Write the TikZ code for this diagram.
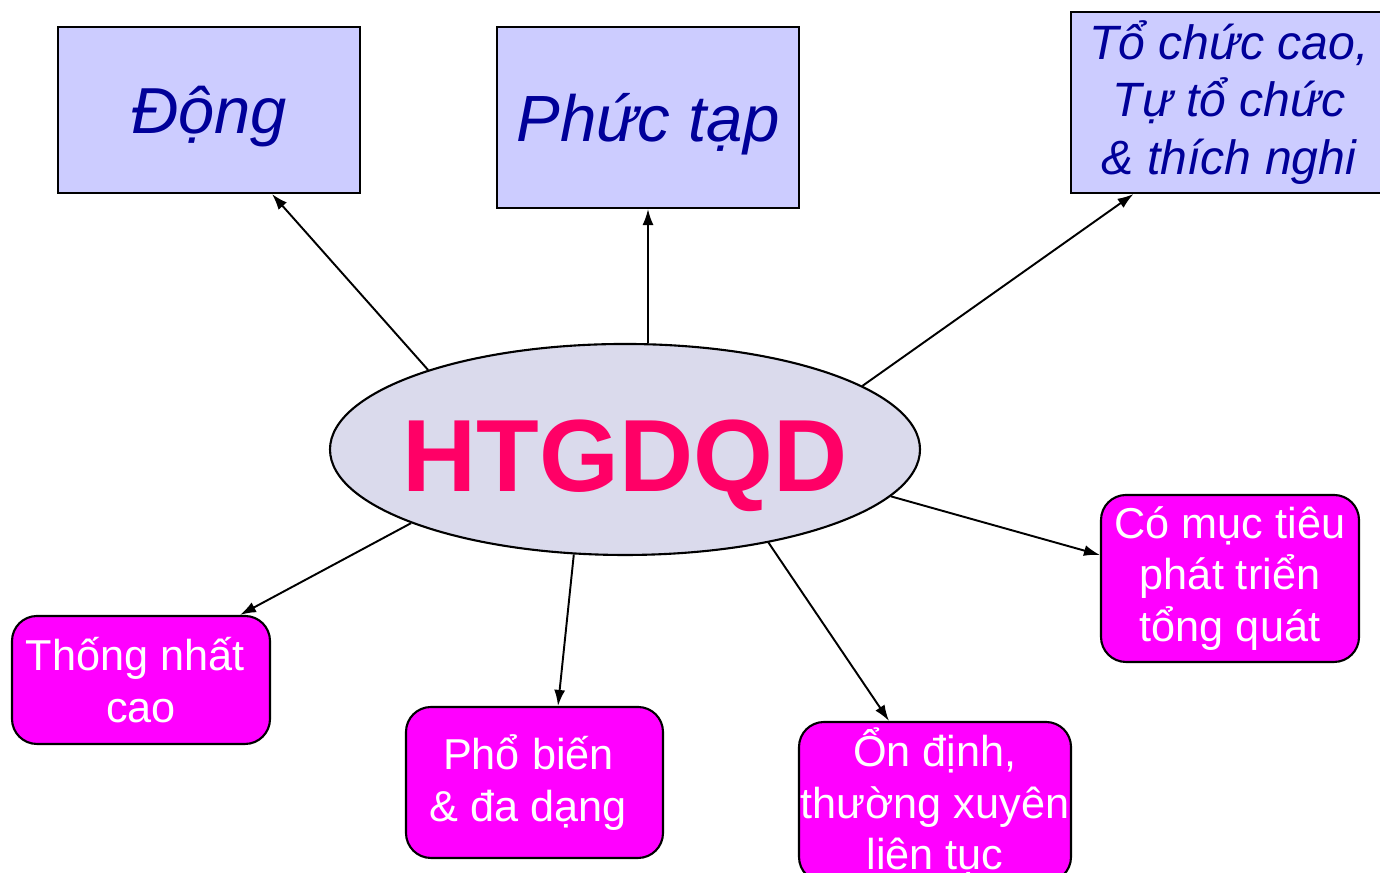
\documentclass[tikz,border=0pt]{standalone}
\usepackage{fontspec}
\setmainfont{Liberation Sans}
\usepackage{tikz}
\usetikzlibrary{arrows.meta, positioning, shapes.geometric, calc}
\usepackage{xcolor}
\definecolor{boxblue}{HTML}{CCCCFF}
\definecolor{textblue}{HTML}{000099}
\definecolor{hubfill}{HTML}{DADAEC}
\definecolor{hubtext}{HTML}{FF0066}
\definecolor{pinkbox}{HTML}{FF00FF}

\begin{document}
\begin{tikzpicture}[
    topbox/.style={draw, line width=0.6pt, fill=boxblue, text=textblue, inner sep=0pt, align=center},
    botbox/.style={draw, line width=0.6pt, fill=pinkbox, text=white, rounded corners=2.5mm, inner sep=0pt, align=center,
        font=\fontsize{12.3}{14.6}\selectfont},
    link/.style={line width=0.55pt, -{Latex[length=1.6mm, width=1.1mm]}}
]
    \useasboundingbox (0,0) rectangle (13.8,8.73);
    \clip (0,0) rectangle (13.8,8.73);

    % Centre ellipse
    \node[ellipse, draw, line width=0.6pt, fill=hubfill, inner xsep=-0.3cm, inner ysep=0pt, minimum width=5.90cm, minimum height=2.11cm,
        text height=0.845cm, text depth=0pt,
        text=hubtext, font=\fontsize{29.2}{34}\selectfont\bfseries] (hub) at (6.25,4.235) {HTGDQD};

    % Top boxes
    \node[topbox, minimum width=3.02cm, minimum height=1.66cm, text depth=0pt, font=\fontsize{18.5}{21}\selectfont\itshape] (dong) at (2.09,7.63) {Động};
    \node[topbox, minimum width=3.02cm, minimum height=1.81cm, text depth=0pt, font=\fontsize{18.6}{21}\selectfont\itshape] (phuc) at (6.48,7.555) {Phức tạp};
    \node[topbox, minimum width=3.16cm, minimum height=1.81cm, font=\fontsize{13.7}{16.3}\selectfont\itshape] (tochuc) at (12.29,7.705)
        {Tổ chức cao,\\Tự tổ chức\\ \& thích nghi};

    % Bottom boxes
    \node[botbox, minimum width=2.58cm, minimum height=1.67cm] (muctieu) at (12.30,2.945) {Có mục tiêu\\phát triển\\tổng quát};
    \node[botbox, minimum width=2.58cm, minimum height=1.28cm] (thongnhat) at (1.41,1.93) {Thống nhất\hspace*{0.28em}\\cao};
    \node[botbox, minimum width=2.57cm, minimum height=1.51cm] (phobien) at (5.345,0.905) {Phổ biến\hspace*{0.28em}\\\& đa dạng\hspace*{0.28em}};
    \node[botbox, minimum width=2.72cm, minimum height=1.60cm] (ondinh) at (9.35,0.71) {Ổn định,\\thường xuyên\\liên tục};

    % Links
    \draw[link] (hub.158) -- ([xshift=6.3mm]dong.south);
    \draw[link] (hub.north -| phuc.south) -- (phuc.south);
    \draw[link] (hub.15) -- ([xshift=-9.55mm]tochuc.south);
    \draw[link] (hub.199) -- ([xshift=9.9mm]thongnhat.north);
    \draw[link] (hub.244) -- ([xshift=2.35mm]phobien.north);
    \draw[link] (hub.327) -- ([xshift=-4.6mm]ondinh.north);
    \draw[link] (hub.350) -- ([yshift=2.35mm]muctieu.west);
\end{tikzpicture}
\end{document}
